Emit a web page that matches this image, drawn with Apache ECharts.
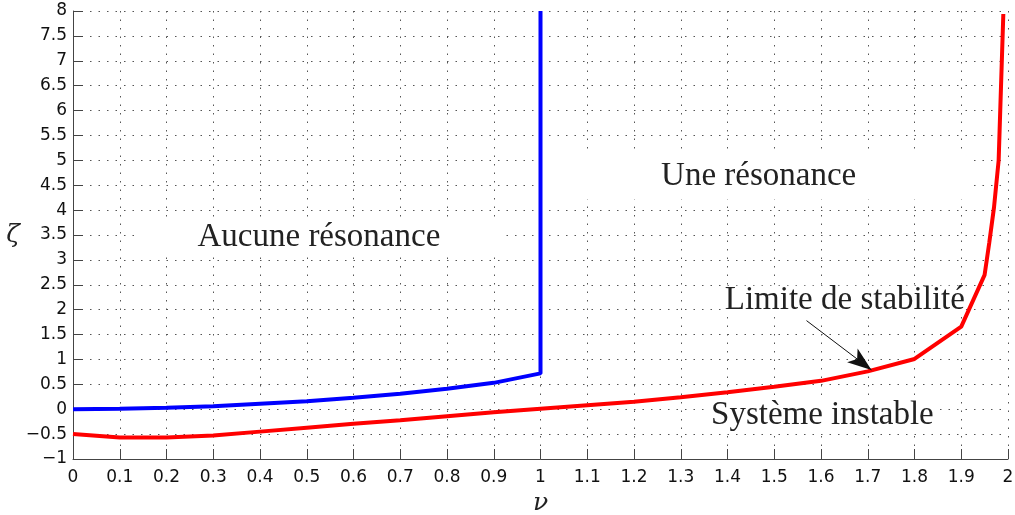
<!DOCTYPE html>
<html>
<head>
<meta charset="utf-8">
<script src="https://cdn.jsdelivr.net/npm/echarts@6/dist/echarts.min.js"></script>
<style>
html,body{margin:0;padding:0;background:#fff;}
#c{width:1015px;height:515px;}
</style>
</head>
<body>
<div id="c"></div>
<script>
// Blue: boundary of resonance region
const nuBlue   = [0, 0.1, 0.2, 0.3, 0.4, 0.5, 0.6, 0.7, 0.8, 0.9, 1.0, 1.0];
const zetaBlue = [0, 0.01, 0.03, 0.06, 0.11, 0.16, 0.23, 0.31, 0.41, 0.53, 0.72, 8];
// Red: stability limit
const nuRed   = [0, 0.1, 0.2, 0.3, 0.4, 0.5, 0.6, 0.7, 0.8, 0.9, 1.0, 1.1, 1.2, 1.3, 1.4, 1.5, 1.6, 1.7, 1.8, 1.9, 1.95, 1.96, 1.97, 1.98, 1.99];
const zetaRed = [-0.5, -0.57, -0.57, -0.53, -0.45, -0.37, -0.29, -0.22, -0.14, -0.06, 0.01, 0.08, 0.15, 0.24, 0.34, 0.45, 0.57, 0.76, 1.01, 1.66, 2.7, 3.35, 4.05, 5.0, 7.94];
// Annotations
const labelTexts = ['Aucune résonance', 'Une résonance', 'Limite de stabilité', 'Système instable'];
const labelNu    = [0.526, 1.471, 1.651, 1.603];
const labelZeta  = [3.45, 4.68, 2.18, -0.13];
// Arrow from/to
const arrowFrom = [1.569, 1.78];
const arrowTo   = [1.708, 0.79];

const xMin = 0, xMax = 2, xStep = 0.1;
const yMin = -1, yMax = 8, yStep = 0.5;

const chart = echarts.init(document.getElementById('c'));
const fmt = v => String(+v.toFixed(2)).replace('-', '\u2212');
const gridLine = {show: true, lineStyle: {color: '#555', width: 1, type: [1.5, 7]}};
const axisLine = {show: true, onZero: false, lineStyle: {color: '#444', width: 1}};
const tickFont = {color: '#111', fontFamily: 'DejaVu Sans, sans-serif', fontSize: 17};

chart.setOption({
  animation: false,
  backgroundColor: '#fff',
  grid: {left: 73, right: 7, top: 11, bottom: 56, containLabel: false, outerBoundsMode: 'none'},
  xAxis: {
    type: 'value', min: xMin, max: xMax, interval: xStep,
    axisLine: axisLine,
    axisTick: {show: true, inside: true, length: 10, lineStyle: {color: '#444'}},
    axisLabel: Object.assign({margin: 10, formatter: fmt, showMaxLabel: true, showMinLabel: true}, tickFont),
    splitLine: gridLine,
    name: 'ν', nameLocation: 'middle', nameGap: 30,
    nameTextStyle: {fontFamily: 'DejaVu Serif', fontStyle: 'italic', fontSize: 25, color: '#222'}
  },
  yAxis: {
    type: 'value', min: yMin, max: yMax, interval: yStep,
    axisLine: axisLine,
    axisTick: {show: true, inside: true, length: 10, lineStyle: {color: '#444'}},
    axisLabel: Object.assign({margin: 6, formatter: fmt, showMaxLabel: true, showMinLabel: true}, tickFont),
    splitLine: gridLine,
    name: 'ζ', nameLocation: 'middle', nameGap: 51, nameRotate: 0,
    nameTextStyle: {fontFamily: 'DejaVu Serif', fontStyle: 'italic', fontSize: 25, color: '#222'}
  },
  series: [
    {
      type: 'line', showSymbol: false, symbol: 'none',
      data: nuBlue.map((x, i) => [x, zetaBlue[i]]),
      lineStyle: {color: '#0000ff', width: 4}, z: 3
    },
    {
      type: 'line', showSymbol: false, symbol: 'none',
      data: nuRed.map((x, i) => [x, zetaRed[i]]),
      lineStyle: {color: '#ff0000', width: 4}, z: 3,
      markLine: {
        silent: true, symbol: ['none', 'arrow'], symbolSize: [13, 24],
        lineStyle: {color: '#111', width: 1, type: 'solid'},
        itemStyle: {color: '#111'},
        label: {show: false},
        data: [[{coord: arrowFrom}, {coord: arrowTo}]]
      }
    }
  ]
});

// white masks behind each label (top, right, bottom, left padding)
const pads = [[8, 60, 8, 60], [13, 117, 11, 113], [0, 1, 8, 1], [1, 1, 5, 1]];
const gfx = labelTexts.map((t, i) => {
  const p = chart.convertToPixel({gridIndex: 0}, [labelNu[i], labelZeta[i]]);
  return {
    type: 'text', x: p[0], y: p[1], z: 1,
    style: {
      text: t, fill: '#222', font: '33px "Liberation Serif"',
      align: 'center', verticalAlign: 'middle', lineHeight: 22,
      backgroundColor: '#fff', padding: pads[i]
    }
  };
});
chart.setOption({graphic: gfx});
</script>
</body>
</html>
